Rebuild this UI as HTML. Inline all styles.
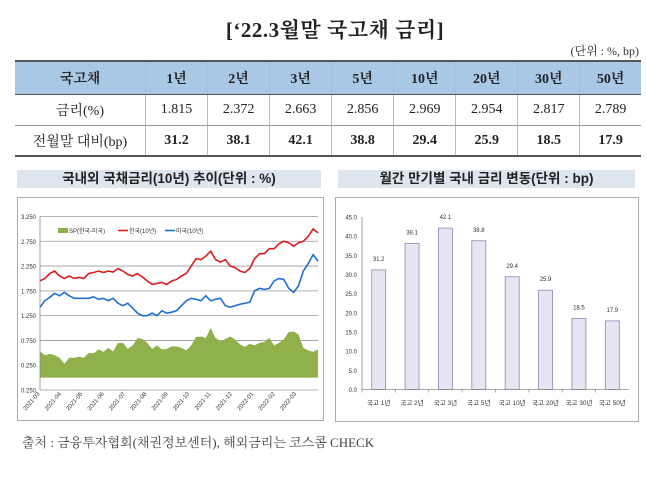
<!DOCTYPE html>
<html><head><meta charset="utf-8"><style>
body{margin:0;background:#fff;width:647px;height:484px;overflow:hidden;position:relative;font-family:"Liberation Serif","Noto Serif CJK KR","Noto Serif CJK SC",serif;}
.abs{position:absolute}
#title{left:0;width:670px;top:14px;text-align:center;font-size:21px;font-weight:bold;color:#222;letter-spacing:0.5px}
#unit{right:8px;top:42px;font-size:12px;color:#333}
table{position:absolute;left:15px;top:60px;border-collapse:collapse;width:626px;font-size:14px;color:#222}
td{text-align:center;border-left:1px solid #bbb;padding:0}
td:first-child{border-left:none;width:130px}
tr.h td{background:#a9c8e6;height:32px;font-weight:bold;border-top:2px solid #555;border-bottom:1px solid #555}
tr.r1 td{height:30px;border-bottom:1px solid #999}
tr.r2 td{height:29px;font-weight:bold;border-bottom:2px solid #555}
tr.r2 td:first-child{font-weight:normal}
.tbar{background:#dde5ee;height:18px;font-family:"Liberation Sans","Noto Sans CJK KR",sans-serif;font-weight:bold;font-size:13.5px;text-align:center;line-height:18px;color:#222}
.box{border:1px solid #aaa;background:#fff}
#src{left:22px;top:432px;font-size:13px;color:#444}
svg text{font-family:"Liberation Sans","Noto Sans CJK KR",sans-serif}
</style></head><body>
<div class="abs" id="title">[‘22.3월말 국고채 금리]</div>
<div class="abs" id="unit">(단위 : %, bp)</div>
<table>
<tr class="h"><td>국고채</td><td>1년</td><td>2년</td><td>3년</td><td>5년</td><td>10년</td><td>20년</td><td>30년</td><td>50년</td></tr>
<tr class="r1"><td>금리(%)</td><td>1.815</td><td>2.372</td><td>2.663</td><td>2.856</td><td>2.969</td><td>2.954</td><td>2.817</td><td>2.789</td></tr>
<tr class="r2"><td>전월말 대비(bp)</td><td>31.2</td><td>38.1</td><td>42.1</td><td>38.8</td><td>29.4</td><td>25.9</td><td>18.5</td><td>17.9</td></tr>
</table>
<div class="abs tbar" style="left:17px;top:170px;width:304px">국내외 국채금리(10년) 추이(단위 : %)</div>
<div class="abs tbar" style="left:338px;top:170px;width:297px">월간 만기별 국내 금리 변동(단위 : bp)</div>
<div class="abs box" style="left:17px;top:197px;width:305px;height:222px"></div>
<div class="abs box" style="left:335px;top:197px;width:302px;height:223px"></div>
<svg class="abs" style="left:0;top:0" width="647" height="484" id="svg"></svg>
<div class="abs" id="src">출처 : 금융투자협회(채권정보센터), 해외금리는 코스콤 CHECK</div>
<script>
const yTicks=["3.250","2.750","2.250","1.750","1.250","0.750","0.250","0.250"];
const yTickVals=[3.25,2.75,2.25,1.75,1.25,0.75,0.25,-0.25];
const months=["2021-03","2021-04","2021-05","2021-06","2021-07","2021-08","2021-09","2021-10","2021-11","2021-12","2022-01","2022-02","2022-03"];
const korea=[1.95,2.0,2.1,2.15,2.05, 2.0,2.05,2.0,2.02, 2.0,2.1,2.12,2.15, 2.12,2.15,2.13,2.2, 2.15,2.08,2.05,2.1,2.03, 1.95,1.88,1.9,1.92, 1.88,1.95,1.98,2.05, 2.1,2.25,2.4,2.38,2.45, 2.55,2.38,2.33,2.38, 2.25,2.22,2.15,2.12,2.2, 2.4,2.5,2.5,2.6, 2.6,2.7,2.75,2.72, 2.65,2.72,2.75,2.85,3.0,2.92];
const us=[1.42,1.55,1.62,1.7,1.65, 1.72,1.65,1.6,1.6, 1.6,1.6,1.63,1.58, 1.6,1.55,1.6,1.5, 1.45,1.5,1.4,1.3,1.25, 1.25,1.3,1.25,1.35, 1.3,1.32,1.35,1.45, 1.55,1.6,1.58,1.55,1.65, 1.55,1.58,1.6,1.45, 1.42,1.45,1.48,1.5,1.52, 1.75,1.8,1.78,1.8, 1.95,2.0,1.98,1.8, 1.72,1.85,2.15,2.3,2.48,2.35];
const spread=[0.53,0.45,0.48,0.45,0.40, 0.28,0.40,0.40,0.42, 0.40,0.50,0.49,0.57, 0.52,0.60,0.53,0.70, 0.70,0.58,0.65,0.80,0.78, 0.70,0.58,0.65,0.57, 0.58,0.63,0.63,0.60, 0.55,0.65,0.82,0.83,0.80, 1.00,0.80,0.73,0.78, 0.83,0.77,0.67,0.62,0.68, 0.65,0.70,0.72,0.80, 0.65,0.70,0.77,0.92, 0.93,0.87,0.60,0.55,0.52,0.57];
const barCats=["국고 1년","국고 2년","국고 3년","국고 5년","국고 10년","국고 20년","국고 30년","국고 50년"];
const barVals=[31.2,38.1,42.1,38.8,29.4,25.9,18.5,17.9];
const barTicks=["45.0","40.0","35.0","30.0","25.0","20.0","15.0","10.0","5.0","0.0"];
const barTickVals=[45,40,35,30,25,20,15,10,5,0];

const svg=document.getElementById('svg');const NS='http://www.w3.org/2000/svg';
function mk(t,a,p){const e=document.createElementNS(NS,t);for(const k in a)e.setAttribute(k,a[k]);(p||svg).appendChild(e);return e;}
// left chart
const L={x0:40,x1:318,yTop:216.5,yBot:390};
const ly=v=>L.yBot-(v+0.25)/3.5*(L.yBot-L.yTop);
const lx=i=>L.x0+i/(korea.length-1)*(L.x1-L.x0);
yTickVals.forEach((v,i)=>{
 const g=mk('line',{x1:L.x0,x2:L.x1,y1:ly(v),y2:ly(v),stroke:'#999','stroke-width':0.8});
 
 const t=mk('text',{x:36,y:ly(v)+2.5,'font-size':6,'text-anchor':'end',fill:'#333'});t.textContent=yTicks[i];
 
});
let ap='M'+lx(0)+','+ly(0);spread.forEach((v,i)=>ap+='L'+lx(i)+','+ly(v));ap+='L'+lx(spread.length-1)+','+ly(0)+'Z';
const area=mk('path',{d:ap,fill:'#8fb04a'});
function line(arr,c,n){const p=mk('polyline',{points:arr.map((v,i)=>lx(i)+','+ly(v)).join(' '),fill:'none',stroke:c,'stroke-width':1.6});}
line(korea,'#d81e1e','korea-10y-line');line(us,'#1f6fd0','us-10y-line');
const ax=mk('line',{x1:L.x0,x2:L.x0,y1:L.yTop,y2:L.yBot,stroke:'#888','stroke-width':0.8});
months.forEach((m,i)=>{const x=L.x0+i*(L.x1-L.x0)/13;
 const t=mk('text',{x:x,y:394,'font-size':6,'text-anchor':'end',fill:'#333',transform:`rotate(-50 ${x} 394)`});t.textContent=m;
 });
// legend
const lg=[['SP(한국-미국)','#8fb04a',58,true],['한국(10년)','#d81e1e',118,false],['미국(10년)','#1f6fd0',165,false]];
lg.forEach(l=>{const g=mk('g',{});
 if(l[3])mk('rect',{x:l[2],y:228,width:10,height:5,fill:l[1]},g);else mk('line',{x1:l[2],x2:l[2]+10,y1:230.5,y2:230.5,stroke:l[1],'stroke-width':1.6},g);
 const t=mk('text',{x:l[2]+11,y:233,'font-size':6,fill:'#333'},g);t.textContent=l[0];});
// right chart
const R={x0:362,x1:629,yTop:217,yBot:389.5};
const ry=v=>R.yBot-v/45*(R.yBot-R.yTop);
barTickVals.forEach((v,i)=>{const t=mk('text',{x:357,y:ry(v)+2.5,'font-size':6,'text-anchor':'end',fill:'#333'});t.textContent=barTicks[i];
 });
const bw=(R.x1-R.x0)/barCats.length;
barVals.forEach((v,i)=>{const cx=R.x0+bw*(i+0.5);
 const b=mk('rect',{x:cx-7,y:ry(v),width:14,height:R.yBot-ry(v),fill:'#e8e4f2',stroke:'#8a8ab8','stroke-width':0.8});
 
 const t=mk('text',{x:cx,y:ry(v)-9,'font-size':6,'text-anchor':'middle',fill:'#333'});t.textContent=v.toFixed(1);
 
 const c=mk('text',{x:cx,y:405,'font-size':6.5,'text-anchor':'middle',fill:'#333'});c.textContent=barCats[i];
 
 const tk=mk('line',{x1:R.x0+bw*i,x2:R.x0+bw*i,y1:R.yBot,y2:R.yBot+3,stroke:'#888','stroke-width':0.7});});
const rx=mk('line',{x1:R.x0,x2:R.x1,y1:R.yBot,y2:R.yBot,stroke:'#888','stroke-width':0.8});
const ryx=mk('line',{x1:R.x0,x2:R.x0,y1:R.yTop,y2:R.yBot,stroke:'#888','stroke-width':0.8});
</script>
</body></html>
